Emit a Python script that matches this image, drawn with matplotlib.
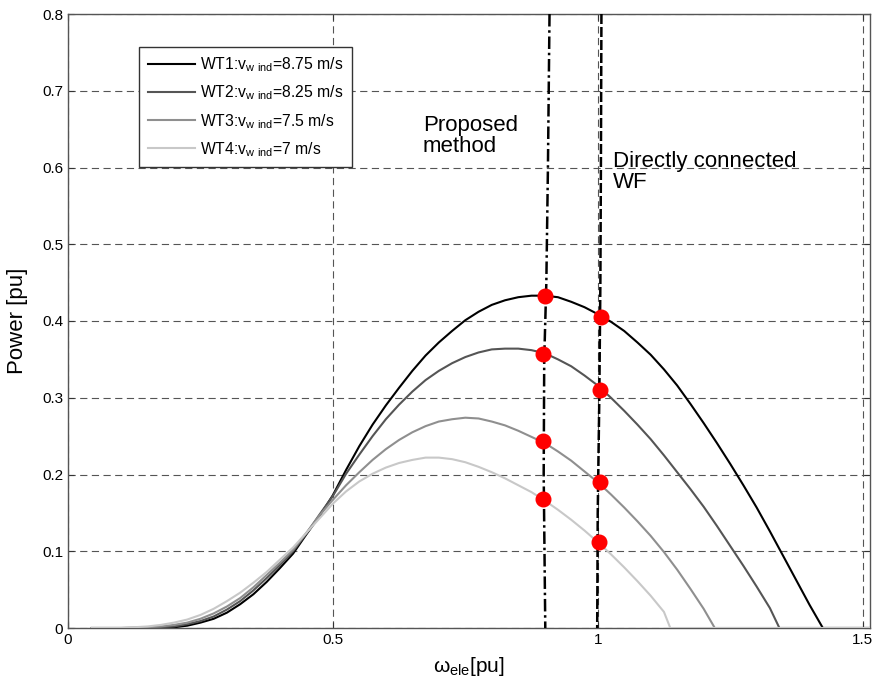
import matplotlib
matplotlib.use("Agg")
import matplotlib.pyplot as plt

plt.rcParams['font.family'] = ['Liberation Sans', 'DejaVu Sans']
plt.rcParams['mathtext.default'] = 'regular'

# ---- data ----
omega = [0.045, 0.10, 0.15, 0.175, 0.20, 0.225, 0.25, 0.275, 0.30, 0.325, 0.35,
         0.375, 0.40,
         0.425, 0.45, 0.475, 0.50, 0.525, 0.55, 0.575, 0.60, 0.625, 0.65, 0.675,
         0.70, 0.725, 0.75, 0.775, 0.80, 0.825, 0.85, 0.875, 0.90, 0.925, 0.95,
         0.975, 1.00, 1.025, 1.05, 1.075, 1.10, 1.125, 1.15, 1.175, 1.20, 1.225,
         1.25, 1.275, 1.30, 1.325, 1.35, 1.375, 1.40]

wt1 = [0, 0, 0, 0, 0.001, 0.003, 0.007, 0.012, 0.020, 0.031, 0.044, 0.060, 0.078,
       0.097, 0.122, 0.146, 0.173, 0.206, 0.237, 0.265, 0.290, 0.313, 0.335, 0.355,
       0.372, 0.387, 0.401, 0.412, 0.421, 0.427, 0.431, 0.433, 0.433, 0.431, 0.425,
       0.418, 0.409, 0.399, 0.387, 0.372, 0.356, 0.337, 0.316, 0.292, 0.267, 0.241,
       0.214, 0.186, 0.157, 0.126, 0.094, 0.062, 0.030]
wt1_tail_x = [1.425, 1.513]

wt2 = [0, 0, 0, 0.001, 0.002, 0.005, 0.009, 0.015, 0.024, 0.035, 0.049, 0.065, 0.082,
       0.100, 0.123, 0.148, 0.172, 0.201, 0.226, 0.250, 0.272, 0.291, 0.308, 0.323,
       0.335, 0.345, 0.353, 0.359, 0.363, 0.364, 0.364, 0.362, 0.358, 0.350, 0.341,
       0.329, 0.316, 0.300, 0.283, 0.265, 0.246, 0.225, 0.203, 0.181, 0.158, 0.133,
       0.107, 0.081, 0.054, 0.026]
wt2_tail_x = [1.343, 1.513]

wt3 = [0, 0, 0.001, 0.002, 0.004, 0.007, 0.012, 0.019, 0.028, 0.039, 0.053, 0.069, 0.085,
       0.102, 0.124, 0.147, 0.167, 0.186, 0.203, 0.219, 0.233, 0.245, 0.255, 0.263,
       0.269, 0.272, 0.274, 0.273, 0.269, 0.264, 0.257, 0.249, 0.241, 0.230, 0.218,
       0.204, 0.190, 0.174, 0.157, 0.139, 0.120, 0.099, 0.076, 0.051, 0.025]
wt3_tail_x = [1.221, 1.513]

wt4 = [0, 0, 0.002, 0.004, 0.007, 0.011, 0.017, 0.025, 0.035, 0.046, 0.059, 0.073, 0.089,
       0.105, 0.124, 0.143, 0.162, 0.178, 0.191, 0.201, 0.209, 0.215, 0.219, 0.222,
       0.222, 0.220, 0.216, 0.210, 0.203, 0.195, 0.186, 0.177, 0.166, 0.154, 0.141,
       0.127, 0.112, 0.096, 0.079, 0.061, 0.042, 0.021]
wt4_tail_x = [1.137, 1.513]

labels = ['WT1:v$_{w\\ ind}$=8.75 m/s', 'WT2:v$_{w\\ ind}$=8.25 m/s',
          'WT3:v$_{w\\ ind}$=7.5 m/s', 'WT4:v$_{w\\ ind}$=7 m/s']
colors = ['#000000', '#555555', '#8f8f8f', '#c8c8c8']

# operating-point traces
prop_x = [0.909, 0.906, 0.903, 0.899, 0.898, 0.901]
prop_y = [0.80, 0.60, 0.45, 0.35, 0.20, 0.0]
direct_x = [1.007, 1.006, 1.005, 1.003, 1.000, 0.999]
direct_y = [0.80, 0.60, 0.45, 0.30, 0.15, 0.0]

prop_dot_x = [0.901, 0.896, 0.896, 0.896]
prop_dot_y = [0.432, 0.357, 0.244, 0.168]
direct_dot_x = [1.006, 1.004, 1.004, 1.002]
direct_dot_y = [0.405, 0.310, 0.190, 0.112]

xticks = [0, 0.5, 1, 1.5]
xticklabels = ['0', '0.5', '1', '1.5']
yticks = [0, 0.1, 0.2, 0.3, 0.4, 0.5, 0.6, 0.7, 0.8]
yticklabels = ['0', '0.1', '0.2', '0.3', '0.4', '0.5', '0.6', '0.7', '0.8']

# ---- figure ----
fig = plt.figure(figsize=(8.74, 6.89), dpi=100)
ax = fig.add_axes([68/874, 1-628/689, (870-68)/874, (628-14)/689])

series = [(wt1, wt1_tail_x), (wt2, wt2_tail_x), (wt3, wt3_tail_x), (wt4, wt4_tail_x)]
for (vals, tail), c, lab in zip(series, colors, labels):
    xs = omega[:len(vals)] + tail
    ys = vals + [0, 0]
    ax.plot(xs, ys, color=c, lw=1.5, label=lab, zorder=3, solid_joinstyle='round')

ax.plot(prop_x, prop_y, color='black', lw=1.8, ls=(0, (5, 1.5, 1, 1.5)), zorder=4)
ax.plot(direct_x, direct_y, color='black', lw=1.8, ls=(0, (4, 1.2)), zorder=4)

ax.plot(prop_dot_x, prop_dot_y, 'o', color='red', ms=10.5, mec='red', zorder=5)
ax.plot(direct_dot_x, direct_dot_y, 'o', color='red', ms=10.5, mec='red', zorder=5)

ax.set_xlim(0, 1.514)
ax.set_ylim(0, 0.8)
ax.set_xticks(xticks)
ax.set_xticklabels(xticklabels)
ax.set_yticks(yticks)
ax.set_yticklabels(yticklabels)
ax.tick_params(direction='in', length=4, width=0.8, top=True, right=True,
               labelsize=11, colors='#333333', labelcolor='black')
for s in ax.spines.values():
    s.set_color('#555555')
    s.set_linewidth(1.0)

ax.grid(True, color='#555555', lw=0.8, ls=(0, (6.5, 4)))
ax.set_axisbelow(True)

ax.set_xlabel('$\\omega_{ele}$[pu]', fontsize=15, labelpad=6)
ax.set_ylabel('Power [pu]', fontsize=16, labelpad=10)

ax.text(0.670, 0.668, 'Proposed\nmethod', fontsize=16, va='top', ha='left',
        linespacing=1.0)
ax.text(1.028, 0.621, 'Directly connected\nWF', fontsize=16, va='top', ha='left',
        linespacing=1.0)

leg = ax.legend(loc='upper left', bbox_to_anchor=((139-68)/802, (628-47)/614),
                fontsize=11.3, frameon=True, fancybox=False, framealpha=1,
                edgecolor='#333333', handlelength=3.0, handletextpad=0.35,
                labelspacing=0.6, borderpad=0.55, borderaxespad=0)
leg.get_frame().set_linewidth(1.0)

fig.savefig('out.png', dpi=100)
